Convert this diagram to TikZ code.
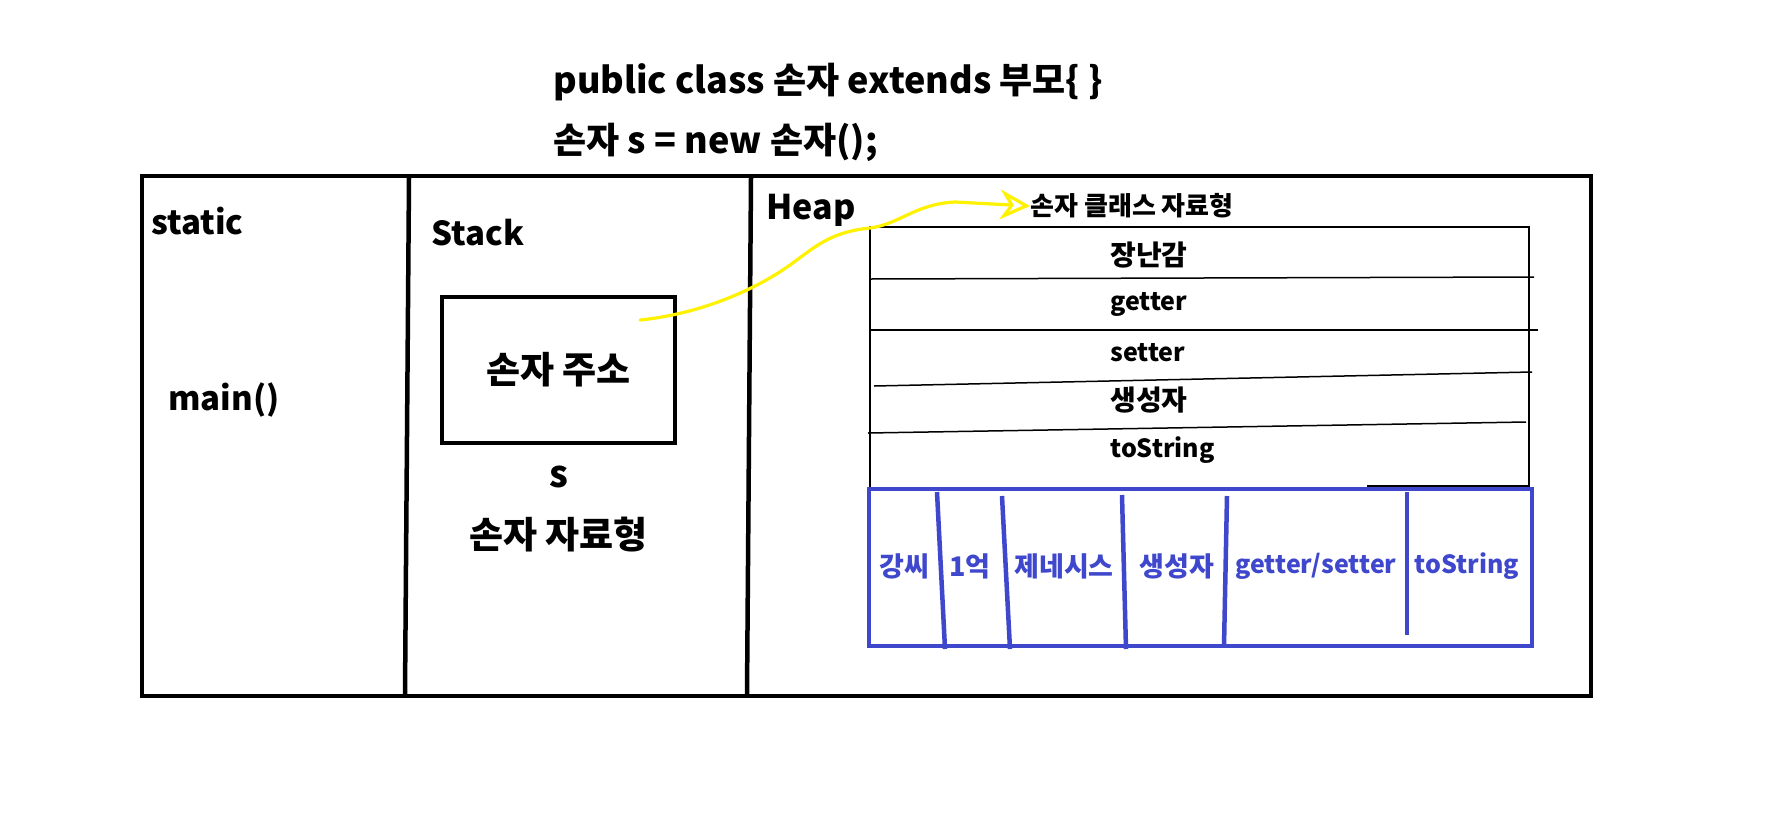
\documentclass[tikz,border=0pt]{standalone}
\usepackage{fontspec}
\setmainfont{Noto Sans CJK KR}
\usepackage{tikz}
\usetikzlibrary{arrows.meta,positioning}
\definecolor{Ink}{HTML}{000000}
\definecolor{PaintBlue}{HTML}{3F48CC}
\definecolor{PaintYellow}{HTML}{FFF200}
\tikzset{
  headline/.style={anchor=west,inner sep=0pt,font=\bfseries\fontsize{18}{22}\selectfont},
  area/.style={anchor=west,inner sep=0pt,font=\bfseries\fontsize{16.5}{20}\selectfont},
  bigtext/.style={inner sep=0pt,font=\bfseries\fontsize{18.5}{22}\selectfont},
  rowtext/.style={anchor=west,inner sep=0pt,font=\bfseries\fontsize{12.5}{15}\selectfont},
  rowkor/.style={rowtext,font=\bfseries\fontsize{14}{17}\selectfont},
  celltext/.style={inner sep=0pt,text=PaintBlue,font=\bfseries\fontsize{12.5}{15}\selectfont},
  cellkor/.style={celltext,font=\bfseries\fontsize{13.5}{16}\selectfont},
  slotbox/.style={draw=Ink,line width=2.25pt,minimum width=116.5pt,minimum height=73pt,inner sep=0pt,font=\bfseries\fontsize{18.5}{22}\selectfont},
  wall/.style={draw=Ink,line width=2.25pt},
  thinline/.style={draw=Ink,line width=.75pt},
  blueline/.style={draw=PaintBlue,line width=2.25pt},
  pointer/.style={draw=PaintYellow,line width=1.6pt,line cap=round,-{Stealth[open,length=15pt,width=15pt,inset=5pt]}}
}
\begin{document}
\begin{tikzpicture}[x=0.5pt,y=-0.5pt]
  \fill[white] (0,0) rectangle (1779,815);
  \useasboundingbox (0,0) rectangle (1779,815);
  % code lines
  \node[headline] (decl) at (553,82) {public class 손자 extends 부모\{ \}};
  \node[headline] (newobj) at (553,142) {손자 s = new 손자();};
  % memory areas
  \draw[wall] (142,176) rectangle (1591,696);
  \draw[wall] (409,178) -- (405,694);
  \draw[wall] (751,178) -- (747,694);
  \node[area] (static) at (151,221) {static};
  \node[area] (stack) at (431,233) {Stack};
  \node[area,font=\bfseries\fontsize{17}{20}\selectfont] (heap) at (766,210) {Heap};
  \node[area] (main) at (168,400) {main()};
  % stack slot
  \node[slotbox] (addr) at (558.5,370) {손자 주소};
  \node[bigtext,below=10pt of addr] (varname) {s};
  \node[bigtext,below=14pt of varname] (vartype) {손자 자료형};
  % heap object
  \node[rowkor,font=\bfseries\fontsize{13}{16}\selectfont] (cls) at (1030,206) {손자 클래스 자료형};
  \draw[thinline] (870,489) -- (870,227) -- (1529,227) -- (1529,489);
  \draw[thinline] (870,279) -- (1534,277);
  \draw[thinline] (870,330) -- (1538,330);
  \draw[thinline] (874,386) -- (1532,372);
  \draw[thinline] (868,433) -- (1526,422);
  \draw[thinline] (1367,486) -- (1528,486);
  \node[rowkor] (toy) at (1110,255) {장난감};
  \node[rowtext] (get) at (1110,304) {getter};
  \node[rowtext] (set) at (1110,353) {setter};
  \node[rowkor] (ctor) at (1110,400) {생성자};
  \node[rowtext] (str) at (1110,450) {toString};
  % inherited fields
  \draw[blueline] (869,489) rectangle (1532,646);
  \draw[blueline] (937,492) -- (945,649);
  \draw[blueline] (1002,496) -- (1010,649);
  \draw[blueline] (1122,495) -- (1126,649);
  \draw[blueline] (1227,496) -- (1224,647);
  \draw[blueline] (1407,492) -- (1407,635);
  \node[cellkor] (fname) at (904,566) {강씨};
  \node[cellkor] (money) at (970,566) {1억};
  \node[cellkor] (car) at (1064,566) {제네시스};
  \node[cellkor] (pctor) at (1177,566) {생성자};
  \node[celltext] (pacc) at (1316,566) {getter/setter};
  \node[celltext] (pstr) at (1467,566) {toString};
  % reference
  \coordinate (ptr) at (640,320);
  \draw[pointer] (ptr) .. controls (700,314) and (755,290) .. (790,265) .. controls (815,247) and (830,232) .. (870,228) .. controls (900,224) and (915,204) .. (955,202) -- (cls.west);
\end{tikzpicture}
\end{document}
